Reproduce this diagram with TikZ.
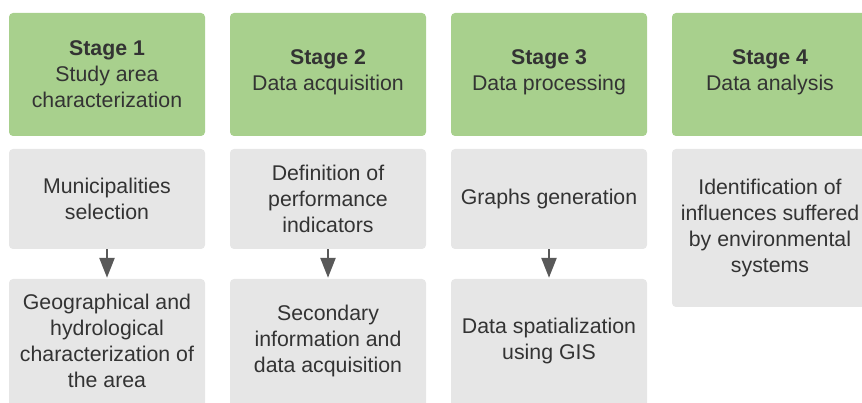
\documentclass[tikz,border=0pt]{standalone}
\usepackage{fontspec}
\setmainfont{Liberation Sans}
\usetikzlibrary{arrows.meta}
\definecolor{stagegreen}{HTML}{A8D08D}
\definecolor{taskgray}{HTML}{E6E6E6}
\definecolor{inkgray}{HTML}{333333}
\definecolor{arrowgray}{HTML}{595959}
\tikzset{
  box/.style={rounded corners=4pt, inner sep=0pt, minimum width=196pt,
    align=center, text=inkgray, font=\fontsize{21.3}{26}\selectfont},
  stagebox/.style={box, fill=stagegreen, minimum height=123pt},
  taskbox/.style={box, fill=taskgray},
  flow/.style={draw=arrowgray, line width=2.5pt,
    -{Triangle[width=15pt,length=20pt]}, shorten >=1pt}
}
\begin{document}
\begin{tikzpicture}[x=1pt,y=-1pt]
\useasboundingbox (0,0) rectangle (862,403);
\clip (0,0) rectangle (862,403);

% stage headers
\node[stagebox] (s1) at (107,74.5) {\textbf{Stage 1}\\Study area\\characterization};
\node[stagebox] (s2) at (328,74.5) {};
\node[box] at (328,72.5) {\textbf{Stage 2}\\Data acquisition};
\node[stagebox] (s3) at (549,74.5) {};
\node[box] at (549,72.5) {\textbf{Stage 3}\\Data processing};
\node[stagebox] (s4) at (770,74.5) {};
\node[box] at (770,72.5) {\textbf{Stage 4}\\Data analysis};

% first row of tasks
\node[taskbox, minimum height=100pt] (t1a) at (107,199) {Municipalities\\selection};
\node[taskbox, minimum height=100pt] (t2a) at (328,199) {Definition of\\performance\\indicators};
\node[taskbox, minimum height=100pt] (t3a) at (549,199) {Graphs generation};
\node[taskbox, minimum height=158pt] (t4a) at (770,228) {Identification of\\influences suffered\\by environmental\\systems};

% second row of tasks
\node[taskbox, minimum height=134pt] (t1b) at (107,346) {};
\node at (107,341) [box] {Geographical and\\hydrological\\characterization of\\the area};
\node[taskbox, minimum height=134pt] (t2b) at (328,346) {};
\node at (328,341) [box] {Secondary\\information and\\data acquisition};
\node[taskbox, minimum height=134pt] (t3b) at (549,346) {};
\node at (549,341) [box] {Data spatialization\\using GIS};

% connectors
\draw[flow] (t1a.south) -- (t1b.north);
\draw[flow] (t2a.south) -- (t2b.north);
\draw[flow] (t3a.south) -- (t3b.north);
\end{tikzpicture}
\end{document}
